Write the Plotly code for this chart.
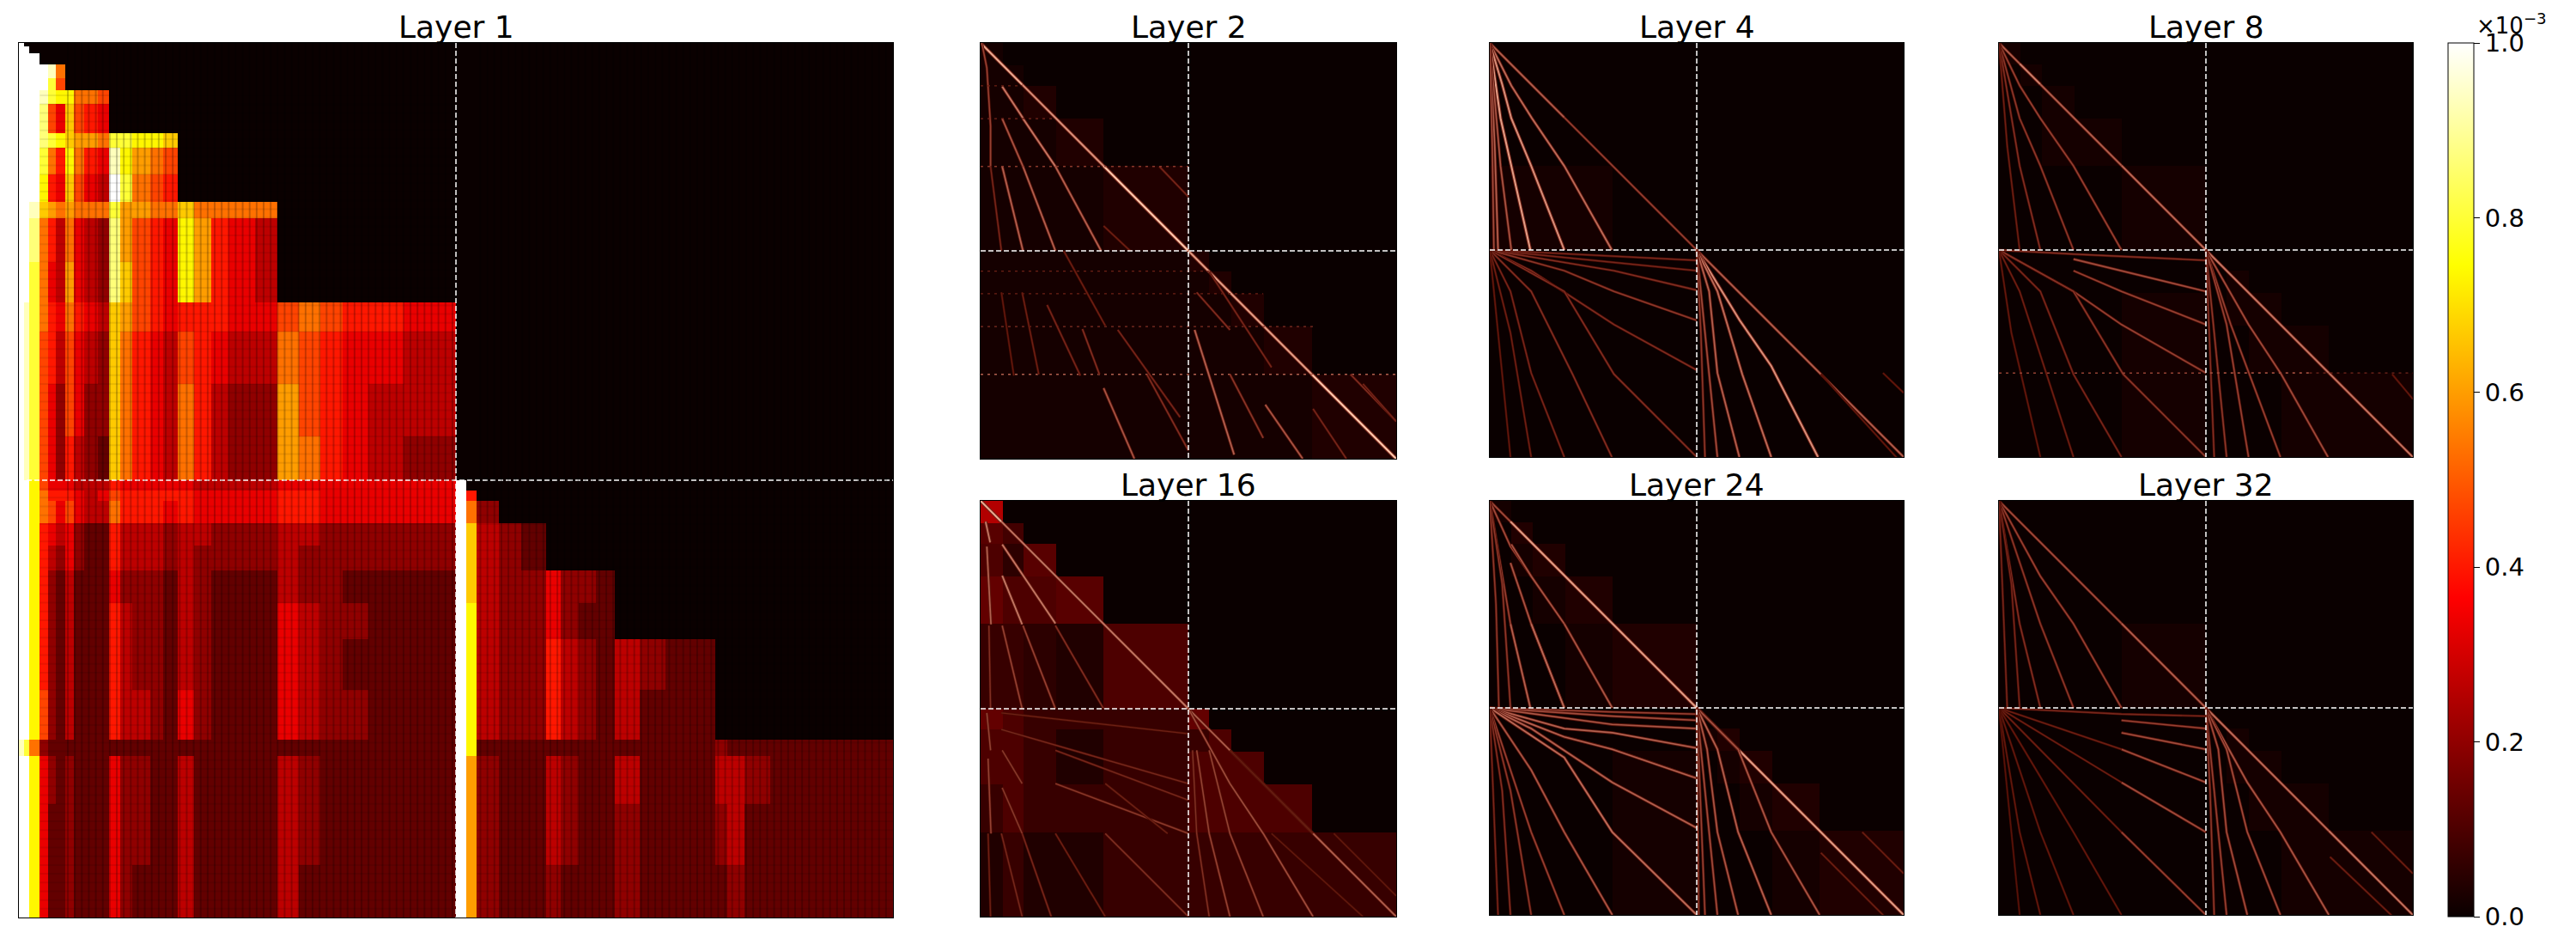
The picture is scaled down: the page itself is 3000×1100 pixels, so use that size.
"""Attention maps per layer: one large heatmap for layer 1, six small ones."""

import plotly.graph_objects as go

# Colour scale of the heatmaps (matplotlib "hot")
HOT = [[0.0, "rgb(10,0,0)"], [0.365, "rgb(255,0,0)"],
       [0.746, "rgb(255,255,0)"], [1.0, "rgb(255,255,255)"]]

COLORBAR_TICKS = [0.0, 0.2, 0.4, 0.6, 0.8, 1.0]
COLORBAR_LABELS = ["0.0", "0.2", "0.4", "0.6", "0.8", "1.0"]
DIVIDER = 0.5

L1_X = [0, .006, .012, .024, .033, .042, .0527, .063, .075, .09, .103, .116, .13, .15, .165, .182,
        .2, .22, .24, .27, .296, .32, .345, .37, .4, .44, .47, .5, .5115, .524, .549, .575, .603,
        .62, .64, .66, .682, .71, .74, .77, .797, .81, .83, .86, .9, .95, 1]
L1_Y = [0, .004, .012, .025, .04, .054, .07, .103, .12, .15, .182, .2, .25, .297, .33, .39, .45, .5,
        .5115, .524, .549, .575, .603, .64, .682, .74, .797, .815, .87, .94, 1]
L1_ROWS = [
    "f00", "ff0", "fff", "fff fe8", "fff fc7",
    "fff ecb b887", "fff d75 a765",
    "fff dcb a998 ccbba", "fff c86 b865 eb987", "fff b65 a754 fc876",
    "ffe a98 9888 c9988 a8888", "ffd 864 8543 d9765 b9654", "ffc 854 9543 da765 b9654",
    "fec 865 8654 a9765 66655 7876655", "fec 764 7543 a8654 76544 8765544",
    "fec 753 7533 a8654 86433 9765444", "fec 753 6432 a8654 86433 9865433",
    "ffb 755 5444 65555 54444 5555555 f0",
    "ffb 866 6545 76666 65555 6655555 f6",
    "ffb 875 7544 86665 65555 6655555 f8 3",
    "ffb 654 5322 64443 44333 4433333 fa 432",
    "ffb 643 5322 64443 43333 4333333 fa 432",
    "ffb 632 4222 53332 43222 4332222 fa 433 5332",
    "ffb 632 4222 64332 43222 5433222 fb 433 5322",
    "ffb 632 4222 64332 43222 5432222 fb 433 6432 4322",
    "ffb 732 4222 64432 53222 5433222 fb 433 6432 4222",
    "ec8 322 2222 22222 22222 2222222 fb 222 2222 2222 322222",
    "ffb 532 3222 53322 42222 4322222 f9 322 4322 4222 443222",
    "ffb 522 3222 53322 42222 4322222 f9 322 4322 3222 342222",
    "ffb 522 3222 53222 42222 4222222 f9 322 3222 3222 232222",
]
# Fine dark weave visible over the layer 1 blocks
L1_STRIPES_X = [.056, .064, .072, .08, .088, .096, .104, .112, .12, .128, .136, .144, .152, .16,
                .168, .176, .184, .192, .2, .208, .216, .224, .232, .24, .248, .256, .264, .272,
                .28, .288, .296, .304, .312, .32, .328, .336, .344, .352, .36, .368, .376, .384,
                .392, .4, .408, .416, .424, .432, .44, .448, .456, .464, .472, .48, .488, .496,
                .528, .536, .544, .552, .56, .568, .576, .584, .592, .6, .608, .616, .624, .632,
                .64, .648, .656, .664, .672, .68, .688, .696, .704, .712, .72, .728, .736, .744,
                .752, .76, .768, .776, .784, .792, .8, .808, .816, .824, .832, .84, .848, .856,
                .864, .872, .88, .888, .896, .904, .912, .92, .928, .936, .944, .952, .96, .968,
                .976, .984, .992]
L1_WEAVE_Y = [.06, .07, .08, .09, .1, .11, .12, .13, .14, .15, .16, .17, .18, .19, .2, .21, .22,
              .23, .24, .25, .26, .27, .28, .29, .3, .31, .32, .33, .34, .35, .36, .37, .38, .39,
              .4, .41, .42, .43, .44, .45, .46, .47, .48, .49, .51, .52, .53, .54, .55, .56, .57,
              .58, .59, .6, .61, .62, .63, .64, .65, .66, .67, .68, .69, .7, .71, .72, .73, .74,
              .75, .76, .77, .78, .79, .8, .81, .82, .83, .84, .85, .86, .87, .88, .89, .9, .91,
              .92, .93, .94, .95, .96, .97, .98, .99]

# Small panels: block edges, one digit per block, 0-f = 0.0-0.25
BLOCK_EDGES = [0, .0527, .103, .182, .296, .5, .549, .603, .682, .797, 1]
L2_BLOCKS = ["1", "11", "112", "1112", "11112", "111112", "1111112", "11111112", "111111112", "1111111112"]
L4_BLOCKS = ["0", "00", "000", "0000", "11110", "000000", "0000000", "00000000", "000000000", "0000000000"]
L8_BLOCKS = ["1", "01", "001", "0011", "00001", "000000", "0000001", "00001011", "000010011", "0000100011"]
L16_BLOCKS = ["f", "75", "637", "8667", "44326", "864448", "6642446", "66424666", "464446666", "2422444444"]
L24_BLOCKS = ["1", "02", "012", "0012", "00012", "000000", "0000012", "00001012", "000010012", "0000100012"]
L32_BLOCKS = ["0", "00", "000", "0000", "00001", "000000", "0000001", "00000011", "000000011", "0000000011"]

# Bright traces of the small panels: (level, xs, ys), in fractions of the matrix
L2_RAYS = [
    (.9, [0, .05, .1], [0, .05, .1]), (.8, [.1, .18, .296], [.1, .18, .296]),
    (1.0, [.296, .5], [.296, .5]), (.85, [.5, .797], [.5, .797]), (1.0, [.797, 1], [.797, 1]),
    (.3, [.43, .5], [.297, .37]), (.25, [.296, .36], [.44, .5]),
    (.7, [.052, .102], [.105, .181]), (.55, [.052, .102], [.182, .297]), (.6, [.052, .102], [.297, .5]),
    (.7, [.102, .18], [.182, .297]), (.6, [.18, .29], [.297, .5]), (.6, [.102, .18], [.297, .5]),
    (.45, [.003, .015, .024, .024], [0, .06, .2, .297]), (.3, [.024, .05], [.297, .5]),
    (.4, [0, .5], [.297, .297]), (.3, [0, .18], [.182, .182]), (.25, [0, .1], [.103, .103]),
    (.6, [0, 1], [.797, .797]), (.35, [0, .8], [.682, .682]), (.25, [0, .68], [.603, .603]),
    (.25, [0, .55], [.549, .549]),
    (.55, [.296, .37], [.83, 1]), (.35, [.245, .286], [.688, .797]), (.3, [.16, .24], [.63, .8]),
    (.3, [.33, .48], [.69, .9]), (.35, [.4, .5], [.797, .98]), (.25, [.1, .14], [.6, .797]),
    (.2, [.05, .08], [.6, .8]), (.25, [.2, .3], [.5, .68]),
    (.6, [.515, .61], [.69, .99]), (.55, [.685, .775], [.87, 1]), (.35, [.52, .6], [.6, .69]),
    (.4, [.6, .68], [.797, .95]), (.3, [.55, .7], [.55, .78]),
    (.35, [.89, 1], [.797, .91]), (.3, [.8, .88], [.88, 1]), (.3, [.92, 1], [.82, .91]),
]
L4_RAYS = [
    (.6, [0, .05, .1, .18], [0, .05, .1, .18]), (.45, [.18, .5], [.18, .5]),
    (.65, [0, .052, .102, .18, .295], [0, .103, .182, .297, .5]),
    (.8, [0, .03, .052, .1, .18], [0, .1, .182, .297, .5]),
    (.85, [0, .026, .052, .098], [0, .182, .297, .5]),
    (.55, [0, .026, .052], [0, .297, .5]),
    (.6, [0, .012, .02], [0, .25, .5]), (.5, [0, .006, .01], [0, .25, .5]),
    (.3, [0, .2, .5], [.5, .51, .525]), (.3, [0, .2, .5], [.5, .52, .55]),
    (.35, [0, .18, .3, .5], [.5, .53, .55, .597]), (.4, [0, .18, .3, .5], [.5, .55, .6, .67]),
    (.35, [0, .1, .3, .5], [.5, .55, .68, .79]), (.35, [0, .18, .3, .5], [.5, .6, .8, 1]),
    (.35, [0, .1, .2, .295], [.5, .6, .8, 1]), (.3, [0, .05, .1, .18], [.5, .6, .797, 1]),
    (.25, [0, .05, .1], [.5, .7, 1]), (.2, [0, .02, .05], [.5, .7, 1]),
    (.6, [.5, .797, 1], [.5, .797, 1]),
    (.8, [.5, .604, .68, .793], [.5, .67, .78, 1]), (.65, [.5, .55, .61, .68], [.5, .6, .8, 1]),
    (.6, [.5, .53, .55, .603], [.5, .6, .797, 1]), (.5, [.5, .52, .55], [.5, .7, 1]),
    (.4, [.5, .51, .52], [.5, .7, 1]), (.2, [.95, 1], [.797, .845]), (.2, [.8, 1], [.8, 1.02]),
]
L8_RAYS = [
    (.6, [0, .05], [0, .05]), (.75, [.05, .1], [.05, .1]), (.6, [.1, .182, .296], [.1, .182, .296]),
    (.65, [.296, .5], [.296, .5]), (.7, [.5, .603, .682, .797], [.5, .603, .682, .797]),
    (.7, [.797, 1], [.797, 1]),
    (.45, [0, .05, .1, .18, .296], [0, .103, .182, .297, .5]),
    (.4, [0, .05, .1, .18], [0, .182, .297, .5]), (.35, [0, .05, .1], [0, .297, .5]),
    (.25, [0, .02, .05], [0, .25, .5]),
    (.35, [0, .18, .5], [.5, .51, .525]), (.5, [.18, .296, .5], [.522, .55, .6]),
    (.45, [.18, .296, .5], [.55, .6, .68]), (.45, [.18, .296, .5], [.6, .68, .797]),
    (.3, [0, .18], [.5, .6]), (.4, [0, .18, .3, .5], [.5, .6, .8, 1]),
    (.3, [0, .1, .18, .296], [.5, .6, .8, 1]), (.25, [0, .05, .18], [.5, .6, 1]), (.2, [0, .03, .1], [.5, .7, 1]),
    (.45, [0, .5], [.797, .797]),
    (.5, [.5, .603, .682, .795], [.5, .68, .8, 1]), (.45, [.5, .56, .68], [.5, .68, 1]),
    (.45, [.5, .55, .603], [.5, .68, 1]), (.4, [.5, .55], [.5, 1]), (.35, [.5, .52], [.5, 1]),
    (.5, [.51, .75], [.797, .797]), (.3, [.75, 1], [.797, .797]),
    (.2, [.95, 1], [.8, .86]),
]
L16_RAYS = [
    (.9, [0, .05], [0, .05]), (.7, [.05, .5], [.05, .5]), (.6, [.5, 1], [.5, 1]),
    (.7, [.052, .102, .18], [.105, .18, .295]), (.35, [.18, .296], [.3, .5]),
    (.7, [.052, .1], [.18, .297]), (.45, [.102, .18], [.3, .5]), (.45, [.052, .1], [.3, .5]),
    (.7, [.012, .023], [.05, .1]), (.6, [.015, .025], [.11, .297]), (.35, [.02, .024], [.3, .5]),
    (.25, [.05, .5], [.51, .56]), (.3, [.05, .5], [.55, .68]), (.3, [.18, .5], [.6, .72]),
    (.4, [.18, .5], [.68, .8]), (.35, [.3, .5], [.8, 1]), (.25, [.3, .45], [.68, .8]),
    (.4, [.052, .1], [.6, .68]), (.4, [.052, .1], [.69, .8]), (.3, [.1, .17], [.8, 1]),
    (.3, [.05, .1], [.8, 1]), (.25, [.18, .3], [.8, 1]),
    (.45, [.015, .024], [.51, .6]), (.45, [.018, .025], [.62, .8]), (.25, [.018, .024], [.8, 1]),
    (.5, [.5, .6, .68, .8], [.5, .68, .8, 1]), (.45, [.55, .6, .68], [.6, .8, 1]),
    (.45, [.52, .55, .6], [.6, .8, 1]), (.35, [.51, .52, .55], [.6, .8, 1]),
    (.25, [.6, .8], [.6, .8]), (.2, [.7, .92], [.8, 1]), (.2, [.85, 1], [.8, .95]),
]
L24_RAYS = [
    (.5, [0, .05], [0, .05]), (.85, [.05, .1, .18, .296, .5], [.05, .1, .18, .296, .5]),
    (.85, [.5, .6, .68, .797, 1], [.5, .6, .68, .797, 1]),
    (.5, [0, .05, .1], [0, .11, .182]), (.55, [.052, .1, .18], [.105, .182, .297]),
    (.55, [.18, .296], [.297, .5]),
    (.55, [.05, .1, .18], [.15, .297, .5]), (.65, [.1, .18], [.297, .5]),
    (.6, [.05, .098], [.297, .5]), (.45, [0, .05], [0, .297]), (.4, [0, .03, .05], [0, .2, .5]),
    (.4, [0, .015, .022], [0, .25, .5]),
    (.45, [0, .296, .5], [.5, .51, .515]), (.5, [0, .296, .5], [.5, .52, .53]),
    (.55, [0, .296, .5], [.5, .54, .55]), (.6, [0, .18, .296, .5], [.5, .55, .56, .597]),
    (.6, [0, .18, .296, .5], [.5, .57, .6, .67]), (.6, [0, .1, .296, .5], [.5, .55, .68, .79]),
    (.65, [0, .18, .296, .5], [.5, .62, .8, 1]),
    (.55, [0, .1, .18, .296], [.5, .65, .8, 1]), (.45, [0, .05, .1, .18], [.5, .65, .8, 1]),
    (.4, [0, .05, .1], [.5, .7, 1]), (.35, [0, .03, .05], [.5, .7, 1]), (.3, [0, .02], [.5, 1]),
    (.55, [.5, .6, .68, .797], [.5, .6, .8, 1]), (.6, [.5, .55, .6, .68], [.5, .6, .8, 1]),
    (.55, [.5, .525, .55, .6], [.5, .6, .8, 1]), (.5, [.5, .52, .55], [.5, .7, 1]),
    (.45, [.5, .51, .52], [.5, .75, 1]), (.4, [.5, .505], [.5, 1]),
    (.25, [.8, 1], [.85, 1.05]), (.25, [.9, 1], [.8, .9]),
]
L32_RAYS = [
    (.5, [0, .296], [0, .296]), (.6, [.296, .5], [.296, .5]),
    (.65, [.5, .603, .682, .797], [.5, .603, .682, .797]), (.7, [.797, 1], [.797, 1]),
    (.45, [0, .1, .18, .296], [0, .182, .297, .5]), (.4, [0, .1, .18], [0, .297, .5]),
    (.35, [0, .05, .1], [0, .297, .5]), (.3, [0, .03, .05], [0, .2, .5]), (.3, [0, .02], [0, .5]),
    (.3, [0, .296, .5], [.5, .515, .52]), (.45, [.296, .5], [.53, .55]), (.5, [.296, .5], [.56, .6]),
    (.5, [.296, .5], [.6, .68]), (.5, [.296, .5], [.68, .8]), (.25, [0, .296], [.5, .6]),
    (.25, [0, .296], [.5, .68]), (.25, [0, .296], [.5, .8]),
    (.45, [.296, .5], [.8, 1]), (.2, [0, .18, .296], [.5, .8, 1]),
    (.2, [0, .1, .18], [.5, .8, 1]), (.2, [0, .05, .1], [.5, .8, 1]), (.15, [0, .05], [.5, 1]),
    (.55, [.5, .6, .68, .797], [.5, .68, .8, 1]), (.5, [.5, .55, .6, .68], [.5, .6, .8, 1]),
    (.5, [.5, .53, .55, .6], [.5, .6, .8, 1]), (.45, [.5, .52, .55], [.5, .7, 1]),
    (.4, [.5, .51, .52], [.5, .7, 1]), (.25, [.9, 1], [.8, .9]), (.25, [.8, 1], [.86, 1.05]),
]

LAYERS = [
    ("Layer 2", L2_BLOCKS, L2_RAYS, 1142, 50, 484),
    ("Layer 4", L4_BLOCKS, L4_RAYS, 1735, 50, 482),
    ("Layer 8", L8_BLOCKS, L8_RAYS, 2328, 50, 482),
    ("Layer 16", L16_BLOCKS, L16_RAYS, 1142, 583, 484),
    ("Layer 24", L24_BLOCKS, L24_RAYS, 1735, 583, 482),
    ("Layer 32", L32_BLOCKS, L32_RAYS, 2328, 583, 482),
]

W, H = 3000, 1100
PAGE_MARGIN = 8  # the page body adds this to everything
FONT = "DejaVu Sans"


def digits_to_matrix(rows, n_cols, scale):
    """Turn digit strings into a matrix, cells that were not listed stay 0."""
    matrix = []
    for row in rows:
        row = row.replace(" ", "").ljust(n_cols, "0")
        matrix.append([int(c, 16) * scale for c in row])
    return matrix


def ray_colour(level):
    r = 60 + 195 * level
    g = 8 + 190 * level ** 1.5
    b = 170 * level ** 1.5
    return f"rgb({r:.0f},{g:.0f},{b:.0f})"


def line_trace(xs, ys, line, name):
    return go.Scatter(x=xs, y=ys, mode="lines", hoverinfo="skip", showlegend=False, line=line,
                      xaxis=f"x{name}", yaxis=f"y{name}")


def add_panel(fig, idx, title, left, top, size, x_edges, y_edges, z, rays):
    name = "" if idx == 1 else str(idx)
    x0, y0 = left - PAGE_MARGIN, top - PAGE_MARGIN
    axis = dict(range=[0, 1], showticklabels=False, ticks="", showgrid=False, zeroline=False,
                showline=True, linecolor="black", linewidth=1, mirror=True)
    fig.layout[f"xaxis{name}"] = dict(axis, domain=[x0 / W, (x0 + size) / W], anchor=f"y{name}")
    fig.layout[f"yaxis{name}"] = dict(axis, domain=[1 - (y0 + size) / H, 1 - y0 / H],
                                      anchor=f"x{name}", range=[1, 0])
    heat = dict(x=x_edges, y=y_edges, z=z, zmin=0, zmax=1, colorscale=HOT, hoverinfo="skip",
                xaxis=f"x{name}", yaxis=f"y{name}", showscale=False)
    if idx == 1:
        heat.update(showscale=True, colorbar=dict(
            x=(2851 - PAGE_MARGIN) / W, xanchor="left", y=1 - y0 / H, yanchor="top",
            lenmode="pixels", len=1017, thickness=30, xpad=0, ypad=0,
            outlinecolor="black", outlinewidth=1,
            tickvals=COLORBAR_TICKS, ticktext=COLORBAR_LABELS, ticks="outside", ticklen=7,
            tickcolor="black", tickfont=dict(family=FONT, size=29, color="black")))
    fig.add_trace(go.Heatmap(**heat))
    for level, xs, ys in rays:
        flat = ys[0] == ys[-1]
        width = 1 + 1.2 * level
        if not flat:
            # soft glow round the core of each trace
            fig.add_trace(line_trace(xs, ys, dict(color=ray_colour(level * 0.3), width=width * 2), name))
        fig.add_trace(line_trace(xs, ys, dict(color=ray_colour(level), width=width,
                                              dash="3px,5px" if flat else "solid"), name))
    for xs, ys in (([DIVIDER, DIVIDER], [0, 1]), ([0, 1], [DIVIDER, DIVIDER])):
        fig.add_trace(line_trace(xs, ys, dict(color="white", width=1.5, dash="6px,3px"), name))
    fig.add_annotation(text=title, xref="paper", yref="paper", x=(x0 + size / 2) / W,
                       y=1 - (top - 4) / H, xanchor="center", yanchor="bottom", showarrow=False,
                       font=dict(family=FONT, size=36, color="black"))


fig = go.Figure()
add_panel(fig, 1, "Layer 1", 22, 50, 1018, L1_X, L1_Y,
          digits_to_matrix(L1_ROWS, len(L1_X) - 1, 1 / 15), [])
# weave over layer 1, kept off the white strips
for x in L1_STRIPES_X:
    fig.add_trace(line_trace([x, x], [0, 1], dict(color="rgba(0,0,0,0.22)", width=2), ""))
for y in L1_WEAVE_Y:
    fig.add_trace(line_trace([.024, .5], [y, y], dict(color="rgba(0,0,0,0.08)", width=2), ""))
    if y > .5:
        fig.add_trace(line_trace([.524, 1], [y, y], dict(color="rgba(0,0,0,0.08)", width=2), ""))
for i, (title, blocks, rays, left, top, size) in enumerate(LAYERS, start=2):
    z = digits_to_matrix(blocks, len(BLOCK_EDGES) - 1, 1 / 60)
    add_panel(fig, i, title, left, top, size, BLOCK_EDGES, BLOCK_EDGES, z, rays)

fig.add_annotation(text="×10<sup>−3</sup>", xref="paper", yref="paper", x=(2882 - PAGE_MARGIN) / W,
                   y=1 - 39 / H, xanchor="left", yanchor="bottom", showarrow=False,
                   font=dict(family=FONT, size=26, color="black"))
fig.update_layout(width=W, height=H, margin=dict(l=0, r=0, t=0, b=0), showlegend=False,
                  paper_bgcolor="white", plot_bgcolor="black")
fig.write_html("out.html")
